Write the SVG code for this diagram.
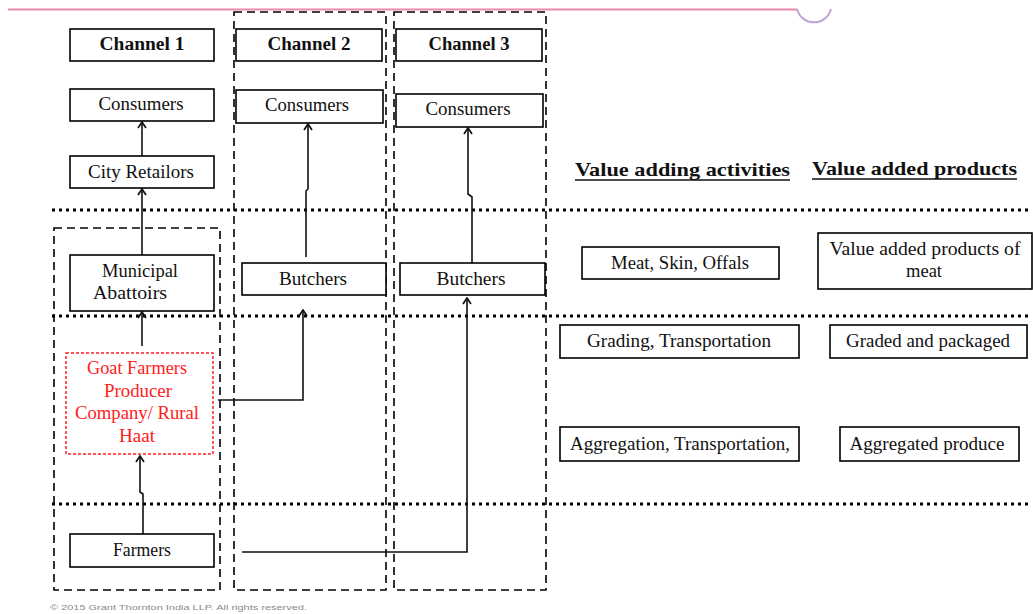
<svg xmlns="http://www.w3.org/2000/svg" width="1033" height="614" viewBox="0 0 1033 614">
  <style>
    .box { fill: #ffffff; stroke: #000000; stroke-width: 1.6; }
    .lbl { font-family: "Liberation Serif", "Times New Roman", serif; font-size: 18px; fill: #111111; text-anchor: middle; }
    .hdr { font-family: "Liberation Serif", "Times New Roman", serif; font-size: 18px; font-weight: bold; fill: #111111; text-anchor: middle; }
    .head { font-family: "Liberation Serif", "Times New Roman", serif; font-size: 19px; font-weight: bold; fill: #111111; }
    .red { fill: #ff2020; }
    .col { fill: none; stroke: #000000; stroke-width: 1.6; stroke-dasharray: 8 5; }
    .dots { fill: none; stroke: #000000; stroke-width: 3.2; stroke-dasharray: 3 4; }
    .link { fill: none; stroke: #111111; stroke-width: 1.6; }
  </style>
  <defs>
    <!-- open chevron arrowhead, tip on the line end -->
    <marker id="arrow" viewBox="0 0 10 10" refX="9" refY="5" markerWidth="10" markerHeight="10" markerUnits="userSpaceOnUse" orient="auto">
      <path d="M3,1 L9,5 L3,9" fill="none" stroke="#111111" stroke-width="1.7"/>
    </marker>
  </defs>

  <rect width="1033" height="614" fill="#ffffff"/>

  <!-- slide header rule and corner ornament -->
  <line x1="8" y1="9.5" x2="797" y2="9.5" stroke="#f08aaa" stroke-width="2"/>
  <path d="M797,9 A17.5,17.5 0 0 0 831,9" fill="none" stroke="#c0a6d6" stroke-width="2"/>

  <!-- channel columns and layer separators -->
  <g id="frames">
    <rect class="col" x="54" y="228" width="166" height="362"/>
    <rect class="col" x="234" y="12" width="152" height="578"/>
    <rect class="col" x="394" y="12" width="152" height="578"/>
    <line class="dots" x1="52" y1="210" x2="1030" y2="210"/>
    <line class="dots" x1="52" y1="316" x2="1030" y2="316"/>
    <line class="dots" x1="52" y1="504" x2="1030" y2="504"/>
  </g>

  <!-- connectors -->
  <g id="connectors">
    <path class="link" d="M142,156 V122" marker-end="url(#arrow)"/>
    <path class="link" d="M142,255 V189" marker-end="url(#arrow)"/>
    <path class="link" d="M142,346 V312" marker-end="url(#arrow)"/>
    <path class="link" d="M143,534 V494 L140,492 V456" marker-end="url(#arrow)"/>
    <path class="link" d="M218,400 H303 V310" marker-end="url(#arrow)"/>
    <path class="link" d="M306,257 V191 L308,189 V124" marker-end="url(#arrow)"/>
    <path class="link" d="M242,552 H467 V298" marker-end="url(#arrow)"/>
    <path class="link" d="M472,263 V197 L468,194 V128" marker-end="url(#arrow)"/>
  </g>

  <!-- channel headers -->
  <g id="channel1">
    <rect class="box" x="70" y="29" width="144" height="32"/>
    <text class="hdr" x="142" y="50" textLength="85" lengthAdjust="spacingAndGlyphs">Channel 1</text>
  </g>
  <g id="channel2">
    <rect class="box" x="236" y="29" width="146" height="32"/>
    <text class="hdr" x="309" y="50" textLength="83" lengthAdjust="spacingAndGlyphs">Channel 2</text>
  </g>
  <g id="channel3">
    <rect class="box" x="396" y="29" width="146" height="32"/>
    <text class="hdr" x="469" y="50" textLength="81" lengthAdjust="spacingAndGlyphs">Channel 3</text>
  </g>

  <!-- channel 1 chain -->
  <g id="consumers1">
    <rect class="box" x="70" y="89" width="144" height="32"/>
    <text class="lbl" x="141" y="110" textLength="85" lengthAdjust="spacingAndGlyphs">Consumers</text>
  </g>
  <g id="cityRetailors">
    <rect class="box" x="70" y="156" width="144" height="32"/>
    <text class="lbl" x="141" y="178" textLength="106" lengthAdjust="spacingAndGlyphs">City Retailors</text>
  </g>
  <g id="municipalAbattoirs">
    <rect class="box" x="70" y="255" width="144" height="56"/>
    <text class="lbl" x="140" y="277" textLength="76" lengthAdjust="spacingAndGlyphs">Municipal</text>
    <text class="lbl" x="130" y="299" textLength="74" lengthAdjust="spacingAndGlyphs">Abattoirs</text>
  </g>
  <g id="goatFarmersPC">
    <rect x="66" y="353" width="147" height="101" fill="#ffffff" stroke="#ff2020" stroke-width="1.5" stroke-dasharray="3 2"/>
    <text class="lbl red" x="137" y="374" textLength="100" lengthAdjust="spacingAndGlyphs">Goat Farmers</text>
    <text class="lbl red" x="138" y="397" textLength="68" lengthAdjust="spacingAndGlyphs">Producer</text>
    <text class="lbl red" x="137" y="419" textLength="124" lengthAdjust="spacingAndGlyphs">Company/ Rural</text>
    <text class="lbl red" x="137" y="442" textLength="36" lengthAdjust="spacingAndGlyphs">Haat</text>
  </g>
  <g id="farmers">
    <rect class="box" x="70" y="534" width="144" height="33"/>
    <text class="lbl" x="142" y="556" textLength="58" lengthAdjust="spacingAndGlyphs">Farmers</text>
  </g>

  <!-- channel 2 chain -->
  <g id="consumers2">
    <rect class="box" x="236" y="90" width="147" height="33"/>
    <text class="lbl" x="307" y="111" textLength="84" lengthAdjust="spacingAndGlyphs">Consumers</text>
  </g>
  <g id="butchers2">
    <rect class="box" x="242" y="263" width="144" height="32"/>
    <text class="lbl" x="313" y="285" textLength="68" lengthAdjust="spacingAndGlyphs">Butchers</text>
  </g>

  <!-- channel 3 chain -->
  <g id="consumers3">
    <rect class="box" x="396" y="94" width="147" height="33"/>
    <text class="lbl" x="468" y="115" textLength="85" lengthAdjust="spacingAndGlyphs">Consumers</text>
  </g>
  <g id="butchers3">
    <rect class="box" x="400" y="263" width="145" height="32"/>
    <text class="lbl" x="471" y="285" textLength="69" lengthAdjust="spacingAndGlyphs">Butchers</text>
  </g>

  <!-- value columns -->
  <g id="headingActivities">
    <text class="head" x="575" y="176" textLength="215" lengthAdjust="spacingAndGlyphs">Value adding activities</text>
    <line x1="575" y1="180" x2="790" y2="180" stroke="#111111" stroke-width="1.5"/>
  </g>
  <g id="headingProducts">
    <text class="head" x="812" y="175" textLength="205" lengthAdjust="spacingAndGlyphs">Value added products</text>
    <line x1="812" y1="179" x2="1017" y2="179" stroke="#111111" stroke-width="1.5"/>
  </g>
  <g id="meatSkinOffals">
    <rect class="box" x="582" y="247" width="197" height="32"/>
    <text class="lbl" x="680" y="269" textLength="138" lengthAdjust="spacingAndGlyphs">Meat, Skin, Offals</text>
  </g>
  <g id="valueAddedMeat">
    <rect class="box" x="818" y="233" width="214" height="56"/>
    <text class="lbl" x="925" y="255" textLength="191" lengthAdjust="spacingAndGlyphs">Value added products of</text>
    <text class="lbl" x="924" y="277" textLength="36" lengthAdjust="spacingAndGlyphs">meat</text>
  </g>
  <g id="gradingTransport">
    <rect class="box" x="560" y="325" width="239" height="33"/>
    <text class="lbl" x="679" y="347" textLength="184" lengthAdjust="spacingAndGlyphs">Grading, Transportation</text>
  </g>
  <g id="gradedPackaged">
    <rect class="box" x="830" y="325" width="197" height="33"/>
    <text class="lbl" x="928" y="347" textLength="164" lengthAdjust="spacingAndGlyphs">Graded and packaged</text>
  </g>
  <g id="aggregationTransport">
    <rect class="box" x="560" y="427" width="239" height="34"/>
    <text class="lbl" x="680" y="450" textLength="220" lengthAdjust="spacingAndGlyphs">Aggregation, Transportation,</text>
  </g>
  <g id="aggregatedProduce">
    <rect class="box" x="840" y="427" width="179" height="34"/>
    <text class="lbl" x="927" y="450" textLength="155" lengthAdjust="spacingAndGlyphs">Aggregated produce</text>
  </g>

  <!-- footer -->
  <text x="50" y="610" font-family="Liberation Sans, Arial, sans-serif" font-size="8" fill="#8a8a8a" textLength="257" lengthAdjust="spacingAndGlyphs">© 2015 Grant Thornton India LLP. All rights reserved.</text>
</svg>
